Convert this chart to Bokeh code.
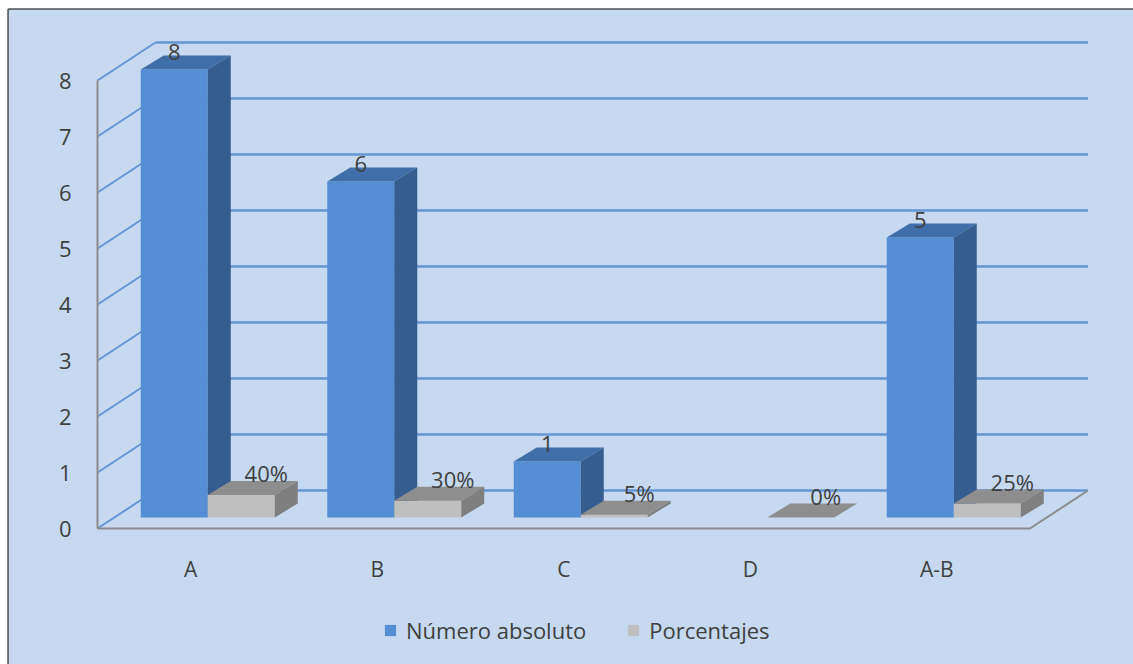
import numpy as np
from bokeh.plotting import figure
from bokeh.models import Range1d, BoxAnnotation, Legend, LegendItem
from bokeh.core.properties import value
from bokeh.embed import file_html
from bokeh.resources import INLINE

# ---------------- data ----------------
categories = ["A", "B", "C", "D", "A-B"]
numero_absoluto = [8, 6, 1, 0, 5]
porcentajes = [40, 30, 5, 0, 25]          # per cent, plotted as fractions (0.40 ...)
y_ticks = [0, 1, 2, 3, 4, 5, 6, 7, 8]
series_names = ["Número absoluto", "Porcentajes"]

# ---------------- layout / style ----------------
W, H = 1133, 664
PX_X = 186.5          # pixels per category
PX_Y = 56.0           # pixels per value unit
X0_PX, Y0_PX = 97, 528  # front-left corner of the floor (pixels)

x_start = -0.5 - X0_PX / PX_X
x_end = x_start + W / PX_X
y_end = Y0_PX / PX_Y
y_start = y_end - H / PX_Y


def dx(px):
    return px / PX_X


def dy(px):
    return px / PX_Y


wall = (dx(58), dy(38))     # front plane -> back wall
front = (dx(17), dy(11))    # front plane -> bar front face
depth = (dx(23), dy(14))    # bar depth
bw = dx(67)                 # bar width

BG = "#C6D9F0"
GRID = "#6396D5"
AXIS = "#8C8C8C"
TXT = "#404040"
FONT = value("Open Sans")
FS = "22px"
BLUE = ("#558ED5", "#3F6EA9", "#355D8E")   # front, top, side
GRAY = ("#BFBFBF", "#8E8E8E", "#7F7F7F")

p = figure(width=W, height=H, output_backend="svg", toolbar_location=None,
           x_range=Range1d(x_start, x_end), y_range=Range1d(y_start, y_end),
           min_border=0, x_axis_location=None, y_axis_location=None)
p.grid.visible = False
p.outline_line_color = None
p.background_fill_color = "white"
p.border_fill_color = "white"

# chart area background (fill only) and its black top/left border
bx = x_start + dx(8)
by = y_end - dy(9)
p.add_layout(BoxAnnotation(left=bx, top=by, right=x_end + 1, bottom=y_start - 1,
                           fill_color=BG, fill_alpha=1.0, line_color=None,
                           level="underlay"))
p.line([bx, bx, x_end + 1], [y_start - 1, by, by], line_color="black",
       line_width=2, level="underlay")

ticks = np.array(y_ticks, dtype=float)
ncat = len(categories)
xl, xr = -0.5, ncat - 0.5

# back wall gridlines
p.multi_line(xs=[[xl + wall[0], xr + wall[0]] for _ in ticks],
             ys=[[t + wall[1], t + wall[1]] for t in ticks],
             line_color=GRID, line_width=2.5)
# side wall gridlines
p.multi_line(xs=[[xl, xl + wall[0]] for _ in ticks],
             ys=[[t, t + wall[1]] for t in ticks],
             line_color=GRID, line_width=2)
# vertical axis line and floor edges
p.line([xl, xl], [0, ticks.max()], line_color=AXIS, line_width=2)
p.line([xl, xr, xr + wall[0]], [0, 0, wall[1]], line_color=AXIS, line_width=2)

idx = np.arange(ncat, dtype=float)


def draw_bars(lefts, heights, colors):
    x0 = lefts + front[0]
    x1 = x0 + bw
    b = np.full_like(heights, front[1])
    t = heights + front[1]
    fr = p.quad(left=x0, right=x1, bottom=b, top=t,
                fill_color=colors[0], line_color=None)
    p.patches(xs=[[a, c, c + depth[0], a + depth[0]] for a, c in zip(x0, x1)],
              ys=[[tt, tt, tt + depth[1], tt + depth[1]] for tt in t],
              fill_color=colors[1], line_color=None)
    p.patches(xs=[[c, c + depth[0], c + depth[0], c] for c in x1],
              ys=[[bb, bb + depth[1], tt + depth[1], tt] for bb, tt in zip(b, t)],
              fill_color=colors[2], line_color=None)
    return fr, (x0 + x1) / 2, t + depth[1]


na = np.array(numero_absoluto, dtype=float)
pc = np.array(porcentajes, dtype=float) / 100.0
mask = na > 0
blue_r, bcx, btop = draw_bars(idx[mask] - bw, na[mask], BLUE)
gray_r, gcx, gtop = draw_bars(idx, pc, GRAY)

# value labels
p.text(x=bcx, y=btop + dy(4), text=[str(int(v)) for v in na[mask]],
       text_align="center", text_baseline="alphabetic", text_font=FONT,
       text_font_size=FS, text_color=TXT)
p.text(x=gcx, y=gtop + dy(8), text=[f"{int(v)}%" for v in porcentajes],
       x_offset=25, text_align="center", text_baseline="alphabetic",
       text_font=FONT, text_font_size=FS, text_color=TXT)

# y tick labels
p.text(x=[xl - dx(26)] * len(ticks), y=ticks, text=[str(t) for t in y_ticks],
       text_align="right", text_baseline="middle", text_font=FONT,
       text_font_size=FS, text_color=TXT)
# category labels
p.text(x=idx, y=[-dy(40)] * ncat, text=categories, text_align="center",
       text_baseline="middle", text_font=FONT, text_font_size="21px",
       text_color=TXT)

legend = Legend(items=[LegendItem(label=series_names[0], renderers=[blue_r]),
                       LegendItem(label=series_names[1], renderers=[gray_r])],
                orientation="horizontal", location=(383, 19),
                margin=0, padding=0, spacing=40, label_standoff=9,
                glyph_width=14, glyph_height=14, label_height=14,
                label_text_font="Open Sans", label_text_font_size=FS,
                label_text_color=TXT, background_fill_alpha=0,
                border_line_color=None)
p.add_layout(legend)

open("out.html", "w").write(file_html(p, INLINE))
